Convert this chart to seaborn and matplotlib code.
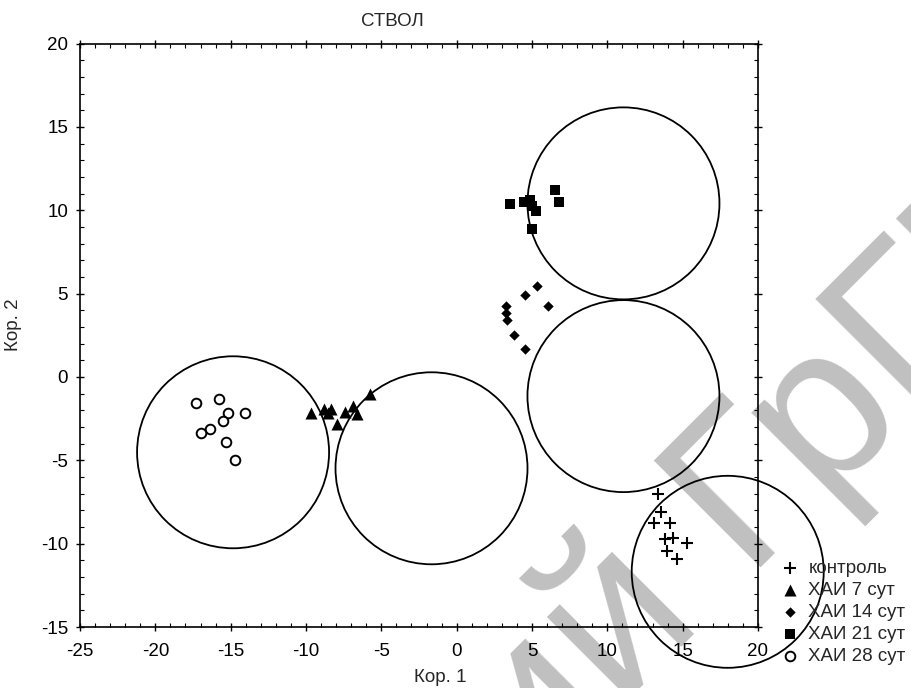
import matplotlib
matplotlib.use("Agg")
import matplotlib.pyplot as plt
import seaborn as sns
import pandas as pd
from matplotlib.patches import Circle
from matplotlib.transforms import ScaledTranslation
from matplotlib.ticker import MultipleLocator

# Canonical scores (root 1, root 2) for each group
control_x = [13.37, 13.59, 13.13, 14.17, 13.84, 14.39, 15.29, 13.95, 14.63]
control_y = [-7.01, -8.12, -8.78, -8.78, -9.71, -9.66, -9.98, -10.43, -10.92]
hai7_x = [-9.69, -8.83, -8.37, -8.55, -7.92, -7.42, -6.89, -6.62, -5.78]
hai7_y = [-2.18, -1.94, -1.94, -2.18, -2.84, -2.09, -1.75, -2.23, -1.03]
hai14_x = [3.30, 3.30, 3.36, 3.83, 4.56, 4.56, 5.35, 6.08]
hai14_y = [4.25, 3.83, 3.41, 2.51, 1.67, 4.91, 5.45, 4.25]
hai21_x = [3.56, 4.49, 4.89, 5.02, 5.28, 5.02, 6.54, 6.80]
hai21_y = [10.37, 10.49, 10.60, 10.25, 9.95, 8.87, 11.20, 10.50]
hai28_x = [-17.31, -15.79, -15.21, -14.05, -15.50, -16.40, -16.96, -15.28, -14.68]
hai28_y = [-1.58, -1.34, -2.17, -2.18, -2.63, -3.14, -3.38, -3.92, -4.97]

group_labels = ["контроль", "ХАИ 7 сут", "ХАИ 14 сут", "ХАИ 21 сут", "ХАИ 28 сут"]

# Centres of the outlined regions
circle_x = [-14.84, -1.67, 11.07, 11.07, 17.99]
circle_y = [-4.52, -5.48, 10.41, -1.15, -11.69]

x_ticks = [-25, -20, -15, -10, -5, 0, 5, 10, 15, 20]
y_ticks = [-15, -10, -5, 0, 5, 10, 15, 20]

sns.set_theme(style="ticks")
plt.rcParams["font.family"] = ["Liberation Sans", "DejaVu Sans"]
plt.rcParams["axes.unicode_minus"] = False

FS = 13.5
W, H = 911, 688
fig = plt.figure(figsize=(W / 100, H / 100), dpi=100)
fig.patch.set_facecolor("white")
ax = fig.add_axes([80 / W, 1 - 627 / H, 678 / W, 583.5 / H])
ax.set_facecolor("none")

# background watermark
wm = dict(rotation=45, rotation_mode="anchor", va="baseline", fontsize=158,
          color="#c0c0c0", zorder=-1)
fig.text(743 / W, 1 - 567 / H, "ГрГМУ", ha="left", **wm)
fig.text(700 / W, 1 - 610 / H, "Репозиторий", ha="right", **wm)

groups = [
    (control_x, control_y, dict(marker="+", s=85, color="black", linewidth=1.5)),
    (hai7_x, hai7_y, dict(marker="^", s=75, color="black", linewidth=0)),
    (hai14_x, hai14_y, dict(marker="D", s=28, color="black", linewidth=0)),
    (hai21_x, hai21_y, dict(marker="s", s=55, color="black", linewidth=0)),
    (hai28_x, hai28_y, dict(marker="o", s=48, color="white", edgecolor="black", linewidth=1.4)),
]
for (gx, gy, style), label in zip(groups, group_labels):
    df = pd.DataFrame({"x": gx, "y": gy})
    sns.scatterplot(data=df, x="x", y="y", ax=ax, label=label, zorder=3, **style)

for cx, cy in zip(circle_x, circle_y):
    circ = Circle((0, 0), radius=0.96, fill=False, edgecolor="black", linewidth=1.3,
                  transform=fig.dpi_scale_trans + ScaledTranslation(cx, cy, ax.transData),
                  clip_on=False, zorder=4)
    ax.add_patch(circ)

ax.set_xlim(-25, 20)
ax.set_ylim(-15, 20)
ax.set_xticks(x_ticks)
ax.set_yticks(y_ticks)
ax.set_xticklabels([str(v) for v in x_ticks])
ax.set_yticklabels([str(v) for v in y_ticks])
ax.xaxis.set_minor_locator(MultipleLocator(1))
ax.yaxis.set_minor_locator(MultipleLocator(1))
ax.tick_params(which="both", top=True, right=True, colors="black", labelsize=FS)
ax.tick_params(which="major", direction="inout", length=6, width=1)
ax.tick_params(which="minor", direction="in", length=3, width=0.8)
ax.tick_params(axis="x", which="major", pad=8.5)
ax.tick_params(axis="y", which="major", pad=5.5)
for sp in ax.spines.values():
    sp.set_visible(True)
    sp.set_color("black")
    sp.set_linewidth(1.2)
ax.set_xlabel("")
ax.set_ylabel("")

fig.text(392 / W, 1 - 25.5 / H, "СТВОЛ", ha="center", va="baseline", fontsize=FS)
fig.text(440 / W, 1 - 677 / H, "Кор. 1", ha="center", va="center", fontsize=FS)
fig.text(13 / W, 1 - 325 / H, "Кор. 2", ha="center", va="center", rotation=90, fontsize=FS)

ax.legend(loc="upper left", bbox_to_anchor=(783 / W, 1 - 559.5 / H),
          bbox_transform=fig.transFigure, frameon=False, fontsize=FS,
          handlelength=0.75, handletextpad=0.6, labelspacing=0.27,
          borderpad=0, borderaxespad=0)

fig.savefig("out.png", dpi=100)
